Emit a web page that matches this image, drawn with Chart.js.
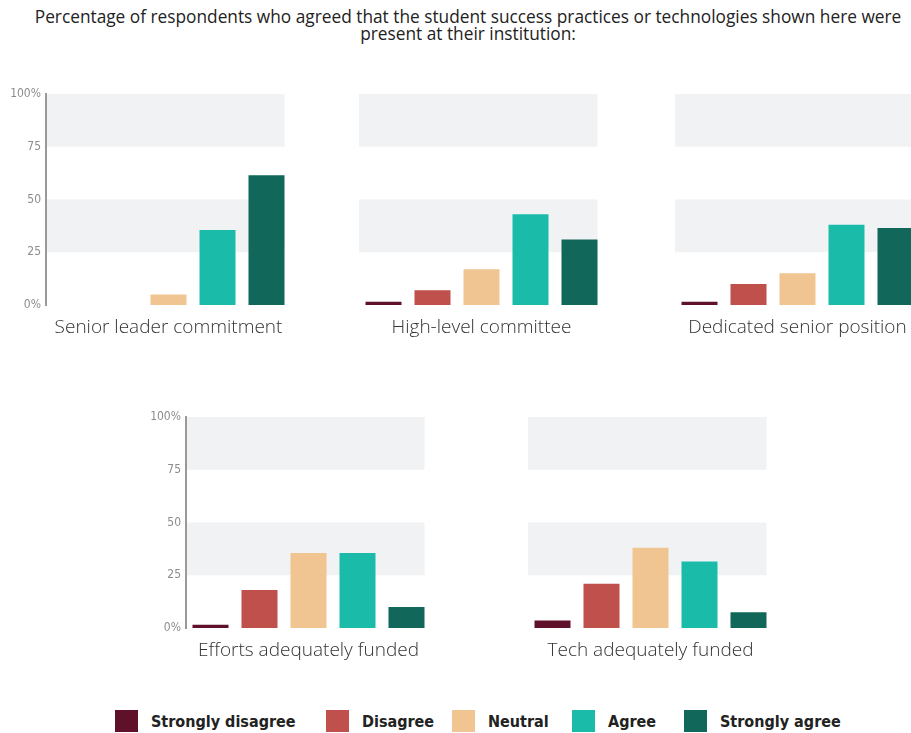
<!DOCTYPE html>
<html>
<head>
<meta charset="utf-8">
<script src="https://cdn.jsdelivr.net/npm/chart.js@4/dist/chart.umd.min.js"></script>
<style>
  html, body { margin: 0; padding: 0; background: #fff; overflow: hidden; }
  body { width: 911px; height: 733px; position: relative; }
  .title {
    position: absolute; left: 0; top: 8px; width: 936px; text-align: center;
    font-family: 'Open Sans', sans-serif; font-size: 17.3px; line-height: 17px; color: #222;
  }
  .panel { position: absolute; }
  .legend-item {
    position: absolute; top: 710px; height: 22px; display: flex; align-items: center;
    font-family: 'DejaVu Sans Condensed', 'DejaVu Sans', sans-serif; font-weight: bold;
    font-size: 16px; color: #222;
  }
  .legend-item .sw { width: 23px; height: 22px; margin-right: 13px; }
</style>
</head>
<body>
<div class="title">Percentage of respondents who agreed that the student success practices or technologies shown here were<br>present at their institution:</div>
<div id="legend"></div>

<script>
// response scale (x categories) and the practice each panel shows
const responses = ['Strongly disagree', 'Disagree', 'Neutral', 'Agree', 'Strongly agree'];
const practices = ['Senior leader commitment', 'High-level committee', 'Dedicated senior position',
  'Efforts adequately funded', 'Tech adequately funded'];

// percent of respondents per response, one array per practice
const seniorLeader = [0, 0, 5, 35.5, 61.5];
const highLevel = [1.5, 7, 17, 43, 31];
const dedicatedPosition = [1.5, 10, 15, 38, 36.5];
const effortsFunded = [1.5, 18, 35.5, 35.5, 10];
const techFunded = [3.5, 21, 38, 31.5, 7.5];

const yTickValues = [0, 25, 50, 75, 100];
const yTickLabels = ['0%', '25', '50', '75', '100%'];

const colors = ['#5e1129', '#bf504b', '#f0c591', '#1abca9', '#10675a'];
const bandColor = '#f1f2f4';

// plot-area top-left for each panel, and whether it shows the y axis
const panels = [
  { data: seniorLeader, left: 46, top: 94, axis: true },
  { data: highLevel, left: 359, top: 94, axis: false },
  { data: dedicatedPosition, left: 675, top: 94, axis: false },
  { data: effortsFunded, left: 186, top: 417, axis: true },
  { data: techFunded, left: 528, top: 417, axis: false }
];

const AXIS_W = 46, PLOT_W = 245, PLOT_H = 211, TOP_PAD = 14, X_AXIS_H = 35;

// shaded bands 25-50 and 75-100, drawn under the axis line and bars
const bandPlugin = {
  id: 'bands',
  beforeDraw(chart) {
    const { ctx, chartArea, scales } = chart;
    const bars = chart.getDatasetMeta(0).data;
    const last = bars[bars.length - 1];
    const right = last.x + last.width / 2;
    ctx.save();
    ctx.fillStyle = bandColor;
    [[75, 100], [25, 50]].forEach(([lo, hi]) => {
      const y1 = scales.y.getPixelForValue(hi);
      const y2 = scales.y.getPixelForValue(lo);
      ctx.fillRect(chartArea.left, y1, right - chartArea.left, y2 - y1);
    });
    ctx.restore();
  }
};

panels.forEach((p, i) => {
  const canvas = document.createElement('canvas');
  canvas.className = 'panel';
  canvas.width = AXIS_W + PLOT_W;
  canvas.height = TOP_PAD + PLOT_H + X_AXIS_H;
  canvas.style.left = (p.left - AXIS_W) + 'px';
  canvas.style.top = (p.top - TOP_PAD) + 'px';
  document.body.appendChild(canvas);

  new Chart(canvas, {
    type: 'bar',
    data: {
      labels: responses,
      datasets: [{
        data: p.data,
        backgroundColor: colors,
        borderWidth: 0,
        barPercentage: 36 / 49,
        categoryPercentage: 1
      }]
    },
    options: {
      responsive: false,
      animation: false,
      layout: { padding: { top: TOP_PAD, left: 0, right: 0, bottom: 0 } },
      plugins: { legend: { display: false }, tooltip: { enabled: false } },
      scales: {
        x: {
          grid: { display: false, drawTicks: false },
          border: { display: false },
          ticks: { display: false },
          title: {
            display: true,
            text: practices[i],
            color: '#333',
            font: { family: "'Open Sans', sans-serif", size: 19, weight: '300' },
            padding: { top: 10, bottom: 1 }
          },
          afterFit(scale) { scale.height = X_AXIS_H; }
        },
        y: {
          min: 0,
          max: 100,
          afterBuildTicks(scale) { scale.ticks = yTickValues.map(v => ({ value: v })); },
          grid: { display: false, drawTicks: false },
          border: { display: p.axis, color: '#999', width: 2 },
          ticks: {
            display: p.axis,
            padding: 5,
            color: '#8c8c8c',
            font: { family: "'DejaVu Sans Condensed', sans-serif", size: 12 },
            callback: (v) => yTickLabels[yTickValues.indexOf(v)]
          },
          afterFit(scale) { scale.width = AXIS_W; }
        }
      }
    },
    plugins: [bandPlugin]
  });
});

// legend
const legendLefts = [115, 326, 452, 572, 684];
const legend = document.getElementById('legend');
responses.forEach((r, i) => {
  const item = document.createElement('div');
  item.className = 'legend-item';
  item.style.left = legendLefts[i] + 'px';
  const sw = document.createElement('span');
  sw.className = 'sw';
  sw.style.background = colors[i];
  const txt = document.createElement('span');
  txt.textContent = r;
  item.appendChild(sw);
  item.appendChild(txt);
  legend.appendChild(item);
});
</script>
</body>
</html>
